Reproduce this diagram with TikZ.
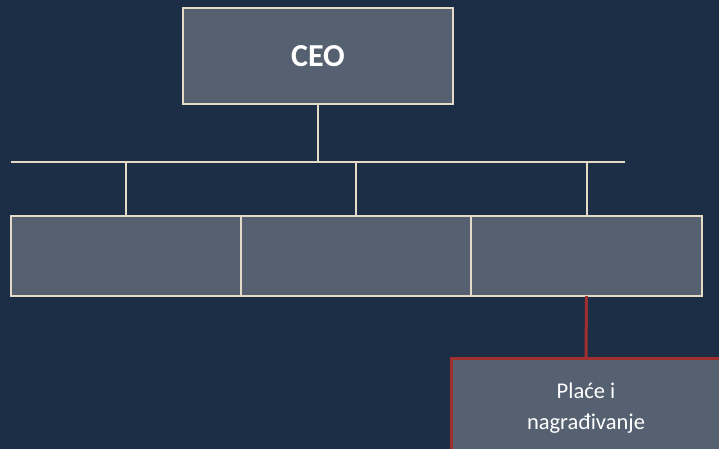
\documentclass[tikz,border=0pt]{standalone}
\usepackage{fontspec}
\setmainfont{Carlito}
\definecolor{bgc}{RGB}{28,45,70}
\definecolor{boxc}{RGB}{85,96,112}
\definecolor{linec}{RGB}{228,218,198}
\definecolor{redc}{RGB}{160,48,48}
\tikzset{
  orgbox/.style={draw=linec, fill=boxc, line width=2pt, inner sep=0pt, outer sep=0pt, text=white},
  redbox/.style={draw=redc, fill=boxc, line width=3pt, inner sep=0pt, outer sep=0pt, text=white, align=center},
  bus/.style={draw=linec, line width=2pt},
  redline/.style={draw=redc, line width=3pt}
}
\begin{document}
\begin{tikzpicture}[x=1pt,y=-1pt]
\fill[bgc] (0,0) rectangle (719,449);
\useasboundingbox (0,0) rectangle (719,449);
\node[orgbox, minimum width=270pt, minimum height=96pt, font=\bfseries\fontsize{32}{38}\selectfont] (ceo) at (318,56) {CEO};
\node[orgbox, minimum width=230.5pt, minimum height=80pt] (b1) at (125.75,256) {};
\node[orgbox, minimum width=230pt, minimum height=80pt] (b2) at (356,256) {};
\node[orgbox, minimum width=231pt, minimum height=80pt] (b3) at (586.5,256) {};
\node[redbox, minimum width=270pt, minimum height=96pt, text depth=0pt, font=\fontsize{22.5}{31}\selectfont] (hr) at (586,406) {Plaće i\\nagrađivanje};
\coordinate (busl) at (10.5,162);
\coordinate (busr) at (624.5,162);
\path[bus] (busl) -- (busr);
\path[bus] (ceo.south) -- (ceo.south |- busl);
\path[bus] (b1.north) -- (b1.north |- busl);
\path[bus] (b2.north) -- (b2.north |- busl);
\path[bus] (b3.north) -- (b3.north |- busl);
\path[redline] (b3.south) -- (hr.north);
\end{tikzpicture}
\end{document}
